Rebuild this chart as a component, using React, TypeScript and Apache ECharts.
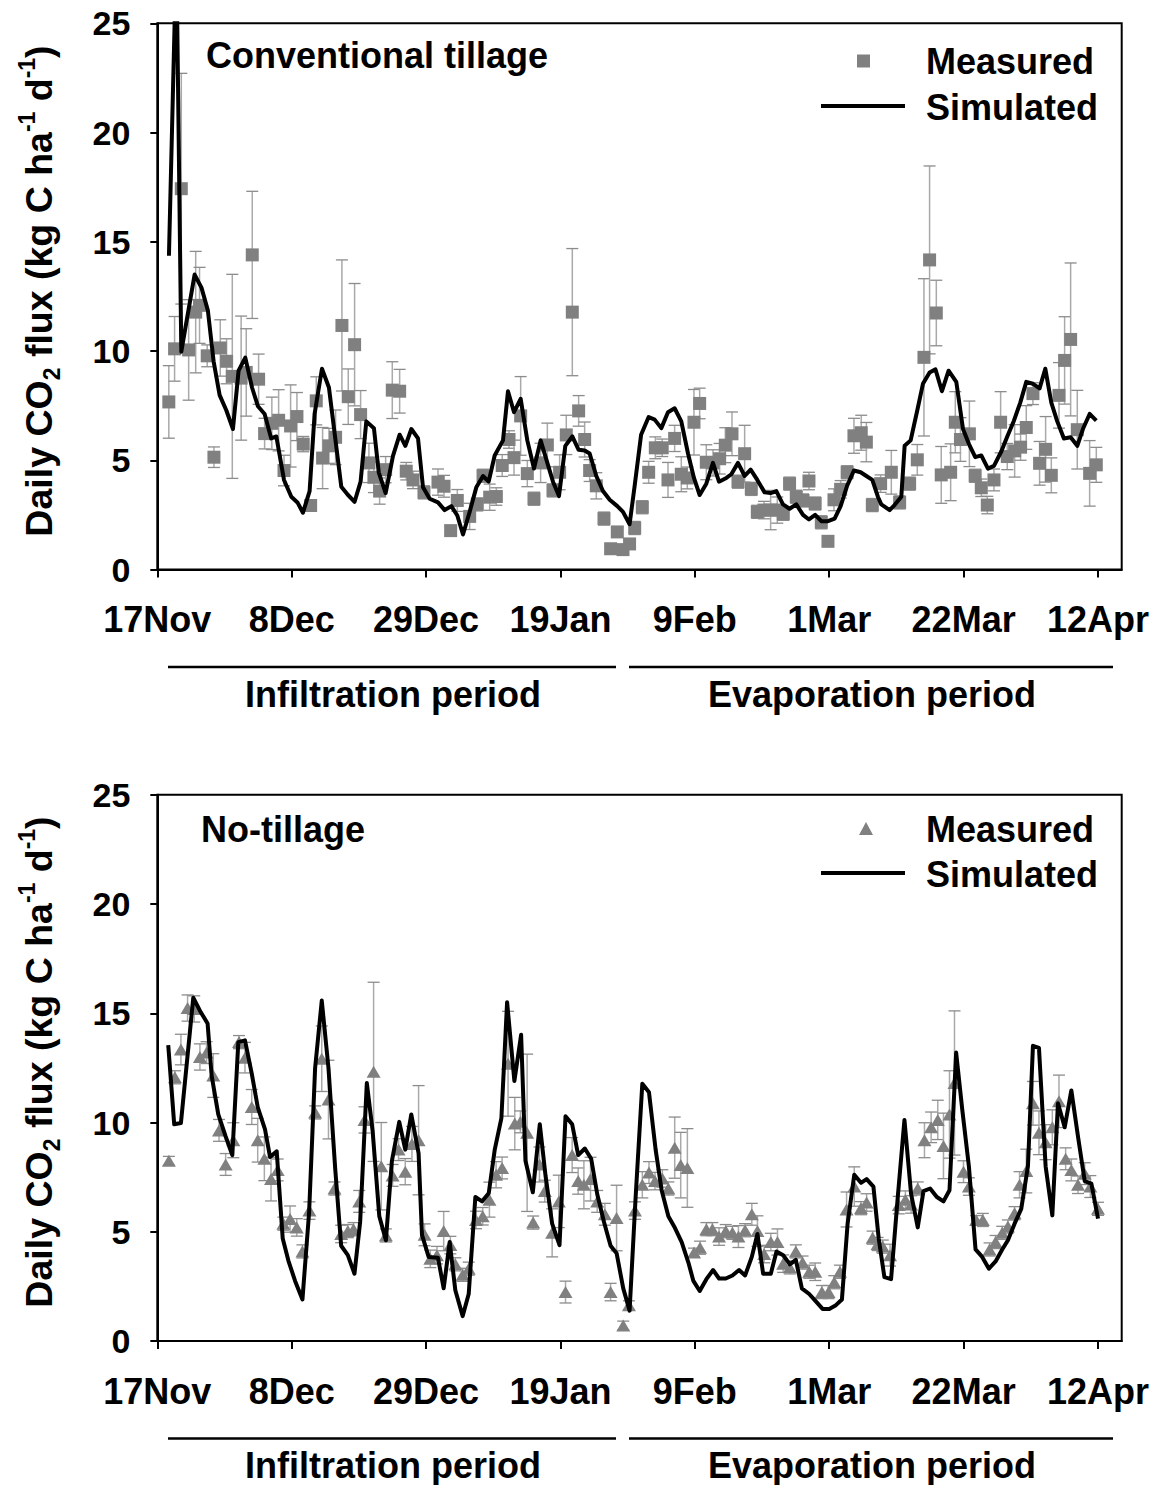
import React, { useEffect, useRef } from "react";
import * as echarts from "echarts";

// ---------- axis ticks ----------
const tickDays = [0, 21, 42, 63, 84, 105, 126, 147];
const tickLabels = ["17Nov", "8Dec", "29Dec", "19Jan", "9Feb", "1Mar", "22Mar", "12Apr"];
const yTicks = [0, 5, 10, 15, 20, 25];

// ---------- Conventional tillage: measured ----------
const ctDays = [
  1.8, 2.7, 3.75, 4.9, 6.0, 6.6, 7.8, 8.85, 9.84, 10.83, 11.72, 13.1, 13.9, 14.84, 15.83, 16.77, 17.9, 18.96, 19.8, 20.83,
  21.82, 22.8, 23.96, 24.84, 25.83, 26.82, 27.86, 28.85, 29.84, 30.83, 31.77, 33.07, 33.85, 34.74, 35.68, 36.72, 37.87, 38.9, 39.96, 41.67,
  43.86, 44.8, 45.84, 46.88, 48.81, 50.0, 50.9, 51.94, 52.98, 53.9, 54.96, 55.74, 56.78, 57.82, 58.86, 59.9, 60.95, 61.83, 62.87, 63.91,
  64.85, 65.84, 66.78, 67.56, 68.6, 69.8, 70.84, 71.88, 72.77, 73.8, 74.6, 75.79, 76.78, 77.82, 78.9, 79.8, 80.84, 81.88, 82.82, 83.86,
  84.75, 85.79, 86.83, 87.87, 88.76, 89.8, 90.74, 91.78, 92.82, 93.76, 94.8, 95.84, 96.88, 97.82, 98.8, 99.85, 100.9, 101.83, 102.8, 103.76,
  104.8, 105.74, 106.78, 107.8, 108.86, 110.0, 110.8, 111.73, 113.03, 114.7, 116.0, 117.56, 118.76, 119.8, 120.68, 121.73, 122.5, 123.97, 124.7, 125.5,
  126.9, 127.8, 128.76, 129.7, 130.74, 131.78, 132.82, 133.97, 134.9, 135.79, 136.83, 137.87, 138.81, 139.7, 140.9, 141.78, 142.72, 143.76, 145.69, 146.73,
];
const ctMeas = [
  7.67, 10.1, 17.43, 10.05, 11.78, 12.09, 9.78, 5.14, 10.14, 9.53, 8.84, 8.76, 9.02, 14.4, 8.71, 6.22, 6.69, 6.83, 4.53, 6.57,
  7.0, 5.74, 2.93, 7.72, 5.1, 5.66, 6.05, 11.17, 7.91, 10.29, 7.09, 4.88, 4.22, 3.59, 4.57, 8.21, 8.16, 4.5, 4.1, 3.53,
  4.0, 3.81, 1.78, 3.16, 2.43, 2.98, 4.29, 3.31, 3.34, 4.76, 5.95, 5.12, 7.03, 4.39, 3.24, 4.88, 5.7, 3.62, 4.45, 6.16,
  11.78, 7.26, 5.95, 4.53, 3.83, 2.33, 0.95, 1.72, 0.91, 1.17, 1.9, 2.85, 4.45, 5.57, 5.57, 4.1, 6.0, 4.36, 4.19, 6.74,
  7.6, 4.91, 4.88, 5.07, 5.69, 6.21, 4.02, 5.3, 3.69, 2.64, 2.72, 2.72, 2.72, 2.55, 3.93, 3.33, 3.16, 4.05, 3.02, 2.16,
  1.29, 3.19, 3.67, 4.45, 6.12, 6.26, 5.83, 2.95, 3.93, 4.45, 3.07, 3.93, 5.02, 9.71, 14.17, 11.74, 4.33, 4.45, 6.74, 5.95,
  6.21, 4.29, 3.74, 2.95, 4.1, 6.74, 5.17, 5.43, 5.6, 6.5, 8.05, 4.86, 5.5, 4.31, 7.97, 9.57, 10.53, 6.4, 4.4, 4.79,
];
const ctErr = [
  1.66, 1.48, 5.28, 2.3, 2.78, 1.74, 0.5, 0.47, 1.29, 1.03, 4.67, 2.84, 2.0, 2.91, 1.15, 0.7, 1.2, 1.4, 0.7, 1.88,
  1.1, 0.35, 0.2, 1.1, 1.4, 0.8, 1.25, 3.0, 1.27, 2.8, 1.1, 0.9, 0.7, 0.6, 0.6, 1.3, 1.0, 0.4, 0.4, 0.3,
  0.6, 0.5, 0.2, 0.5, 0.6, 0.3, 0.3, 0.6, 0.4, 0.5, 0.4, 0.8, 1.8, 0.6, 0.3, 0.9, 1.0, 0.3, 0.8, 0.9,
  2.91, 0.7, 0.8, 0.5, 0.6, 0.3, 0.1, 0.2, 0.1, 0.2, 0.3, 0.3, 0.5, 0.5, 0.4, 0.8, 0.6, 0.8, 0.5, 1.5,
  0.7, 0.8, 0.6, 0.7, 0.8, 1.0, 0.3, 1.3, 0.3, 0.3, 0.4, 0.9, 0.6, 0.3, 0.3, 0.3, 0.3, 0.4, 0.3, 0.3,
  0.2, 0.5, 0.4, 0.3, 0.8, 0.8, 0.9, 0.3, 0.4, 1.0, 0.3, 0.3, 0.7, 3.6, 4.3, 1.5, 1.3, 1.3, 1.4, 1.0,
  1.5, 0.3, 0.4, 0.4, 0.5, 1.4, 0.6, 1.2, 0.6, 1.0, 0.5, 1.0, 1.5, 0.8, 1.5, 2.0, 3.5, 1.8, 1.5, 0.8,
];

// ---------- Conventional tillage: simulated ----------
const ctSimDays = [
  1.82, 2.98, 3.75, 5.83, 6.9, 7.9, 8.8, 9.74, 10.78, 11.82, 12.7, 13.75, 14.8, 15.73, 16.77, 17.8, 18.6, 19.8, 20.94, 21.9,
  22.76, 23.8, 24.58, 25.73, 26.82, 27.7, 28.75, 29.8, 30.83, 31.77, 32.66, 33.85, 34.6, 35.68, 36.83, 37.87, 38.76, 39.7, 40.74, 41.52,
  42.56, 43.86, 44.9, 45.95, 46.88, 47.77, 48.81, 49.85, 50.9, 51.78, 52.72, 54.02, 54.8, 55.74, 56.78, 57.82, 58.86, 59.9, 60.95, 61.83,
  62.77, 63.76, 64.85, 65.84, 66.78, 67.56, 68.6, 69.64, 70.69, 71.88, 72.77, 73.8, 74.6, 75.6, 76.78, 77.72, 78.76, 79.8, 80.84, 81.88,
  82.93, 83.86, 84.75, 85.79, 86.83, 87.77, 88.92, 89.7, 90.74, 91.78, 92.72, 93.76, 94.9, 95.84, 96.73, 97.77, 98.8, 99.85, 100.9, 101.83,
  102.8, 103.76, 104.8, 105.84, 106.78, 107.8, 108.86, 109.9, 110.8, 111.73, 112.6, 113.13, 114.44, 115.2, 116.26, 116.78, 117.72, 118.76, 119.64, 120.68,
  121.6, 122.61, 123.65, 124.85, 125.9, 126.83, 127.82, 128.76, 129.8, 130.74, 131.88, 132.82, 133.86, 134.85, 135.79, 136.83, 137.87, 138.76, 139.7, 140.63,
  141.67, 142.72, 143.76, 144.64, 145.69, 146.73,
];
const ctSimVals = [
  14.36, 28.3, 9.97, 13.5, 12.9, 11.86, 9.53, 7.98, 7.29, 6.43, 9.1, 9.7, 8.33, 7.47, 7.12, 6.0, 6.09, 4.1, 3.33, 3.07,
  2.6, 3.59, 7.12, 9.19, 8.33, 6.26, 3.79, 3.41, 3.1, 4.02, 6.78, 6.47, 4.45, 3.5, 5.2, 6.17, 5.66, 6.43, 6.0, 3.76,
  3.24, 3.07, 2.72, 2.9, 2.47, 1.6, 2.64, 3.76, 4.28, 4.02, 5.22, 5.91, 8.16, 7.2, 7.81, 5.91, 4.62, 5.91, 4.88, 4.02,
  3.36, 5.66, 6.09, 5.48, 5.45, 5.31, 4.28, 3.59, 3.19, 2.9, 2.64, 2.07, 3.84, 6.17, 6.98, 6.86, 6.47, 7.2, 7.38, 6.78,
  5.31, 4.19, 3.41, 3.93, 4.88, 4.02, 4.19, 4.36, 4.88, 4.28, 4.57, 4.1, 3.53, 3.5, 3.59, 2.98, 2.78, 2.98, 2.5, 2.29,
  2.5, 2.21, 2.21, 2.33, 2.9, 3.84, 4.53, 4.45, 4.28, 4.1, 3.33, 2.98, 2.72, 2.95, 3.33, 5.66, 5.91, 7.29, 8.5, 9.02,
  9.16, 8.16, 9.1, 8.59, 6.43, 5.74, 5.14, 5.22, 4.62, 4.74, 5.4, 6.09, 6.81, 7.64, 8.59, 8.5, 8.29, 9.19, 7.64, 6.78,
  6.0, 6.05, 5.66, 6.43, 7.12, 6.81,
];

// ---------- No-tillage: measured ----------
const ntDays = [
  1.81, 2.75, 3.69, 4.73, 5.77, 6.66, 7.7, 8.75, 9.64, 10.68, 11.88, 12.77, 13.7, 14.76, 15.69, 16.73, 17.77, 18.81, 19.7, 20.75,
  21.79, 22.68, 23.77, 24.66, 25.7, 26.75, 27.69, 28.73, 29.77, 30.66, 31.55, 32.38, 33.8, 35.0, 35.72, 36.77, 37.7, 38.75, 39.79, 40.83,
  41.77, 42.66, 43.7, 44.75, 45.79, 46.57, 47.72, 48.66, 49.8, 50.85, 51.9, 52.94, 53.88, 54.81, 55.86, 56.74, 57.79, 58.73, 59.72, 60.55,
  61.7, 62.74, 63.79, 64.83, 65.77, 66.66, 67.7, 68.74, 69.94, 70.83, 71.77, 72.81, 73.7, 74.64, 75.79, 76.83, 77.77, 78.92, 79.86, 80.85,
  81.79, 82.83, 83.87, 84.81, 85.8, 86.74, 87.78, 88.83, 89.87, 90.81, 91.85, 92.9, 93.78, 94.83, 95.87, 96.91, 97.8, 98.84, 99.78, 100.83,
  101.87, 102.81, 103.85, 104.89, 105.78, 106.67, 107.71, 108.91, 109.96, 110.84, 111.78, 112.56, 113.36, 114.5, 115.86, 116.9, 117.79, 118.83, 119.88, 120.92,
  121.96, 122.85, 123.79, 124.57, 125.98, 126.82, 127.96, 129.0, 130.05, 130.99, 132.03, 132.92, 133.96, 134.74, 135.79, 136.83, 137.77, 138.81, 139.86, 140.9,
  141.94, 142.83, 143.87, 144.92, 145.8, 147.0,
];
const ntMeas = [
  8.25, 12.07, 13.34, 15.24, 15.2, 13.0, 13.2, 12.15, 9.64, 8.08, 9.19, 13.68, 12.97, 10.71, 9.19, 8.34, 7.41, 7.83, 5.37, 5.58,
  5.2, 4.1, 5.97, 10.46, 12.92, 11.05, 6.98, 4.9, 5.03, 5.12, 6.39, 10.12, 12.32, 8.0, 4.83, 7.58, 8.76, 7.75, 9.02, 9.19,
  4.86, 3.76, 3.93, 5.03, 4.39, 3.51, 3.03, 3.31, 5.54, 5.71, 6.47, 7.61, 7.92, 12.69, 9.95, 10.03, 9.53, 5.42, 8.08, 6.86,
  4.95, 6.39, 2.24, 8.51, 7.32, 7.15, 7.41, 6.39, 5.8, 2.24, 5.63, 0.71, 1.64, 5.97, 7.15, 7.71, 7.32, 7.44, 6.98, 8.85,
  8.05, 7.92, 4.05, 4.27, 5.12, 5.12, 4.78, 5.03, 4.95, 4.78, 5.07, 5.8, 5.03, 3.98, 4.53, 4.53, 3.54, 3.37, 4.1, 3.59,
  3.17, 3.17, 2.24, 2.24, 2.69, 3.17, 6.02, 7.07, 6.08, 6.34, 4.73, 4.44, 4.32, 3.93, 6.22, 6.47, 6.25, 6.98, 9.19, 9.78,
  10.12, 8.93, 10.37, 11.81, 7.75, 7.07, 5.54, 5.54, 4.19, 4.53, 4.95, 5.24, 5.85, 7.15, 7.78, 10.88, 9.53, 9.1, 9.78, 10.97,
  8.34, 7.83, 7.15, 7.66, 7.07, 6.05,
];
const ntErr = [
  0.2, 0.3, 0.7, 0.6, 0.6, 0.6, 0.5, 1.0, 0.5, 0.5, 0.8, 0.3, 0.7, 0.8, 1.0, 1.0, 1.0, 0.5, 0.3, 0.6,
  0.4, 0.3, 0.4, 0.3, 1.5, 1.8, 0.3, 0.4, 0.3, 0.3, 0.5, 0.6, 4.1, 2.0, 0.3, 0.5, 0.5, 0.6, 0.8, 2.5,
  0.5, 0.4, 0.4, 0.9, 0.4, 0.3, 0.3, 0.3, 0.4, 0.4, 0.8, 0.6, 0.5, 2.4, 1.2, 0.5, 3.6, 0.3, 0.8, 0.5,
  1.1, 1.2, 0.5, 0.8, 0.6, 1.1, 1.0, 0.5, 0.5, 0.4, 1.5, 0.2, 0.2, 0.4, 0.6, 0.5, 0.4, 0.4, 0.3, 1.4,
  1.5, 1.8, 0.2, 0.3, 0.3, 0.3, 0.4, 0.3, 0.3, 0.5, 0.3, 0.5, 0.7, 0.4, 0.4, 0.6, 0.4, 0.3, 0.3, 0.3,
  0.3, 0.4, 0.3, 0.3, 0.3, 0.3, 0.8, 0.9, 0.3, 0.4, 0.3, 0.3, 0.3, 0.5, 0.4, 0.4, 0.4, 0.3, 0.8, 0.7,
  0.9, 1.5, 2.0, 3.3, 0.5, 0.4, 0.2, 0.3, 0.3, 0.3, 0.3, 0.3, 0.3, 0.6, 1.0, 1.0, 1.0, 0.8, 0.8, 1.2,
  0.5, 0.5, 0.4, 0.5, 0.5, 0.3,
];

// ---------- No-tillage: simulated ----------
const ntSimDays = [
  1.71, 2.64, 3.69, 5.62, 6.66, 7.86, 8.49, 9.53, 10.68, 11.72, 12.66, 13.7, 14.76, 15.69, 16.83, 17.62, 18.66, 19.6, 20.48, 21.53,
  22.68, 23.72, 24.66, 25.7, 26.75, 27.79, 28.73, 29.77, 30.81, 31.7, 32.74, 33.65, 34.69, 35.72, 36.66, 37.81, 38.75, 39.69, 40.83, 41.36,
  42.4, 43.86, 44.75, 45.69, 46.57, 47.72, 48.66, 49.7, 50.75, 51.79, 52.73, 53.77, 54.66, 55.8, 56.85, 57.53, 58.68, 59.77, 60.66, 61.7,
  62.85, 63.79, 64.83, 65.77, 66.81, 67.8, 68.74, 69.79, 70.83, 71.77, 72.81, 73.8, 74.74, 75.79, 76.83, 77.87, 78.81, 79.86, 80.9, 81.94,
  82.99, 83.77, 84.76, 85.8, 86.85, 87.78, 88.83, 89.87, 90.91, 91.85, 92.9, 93.78, 94.67, 95.87, 96.76, 97.8, 98.84, 99.78, 100.72, 101.87,
  102.91, 103.96, 105.0, 106.04, 106.98, 107.87, 108.91, 109.96, 110.84, 111.9, 112.73, 113.62, 114.66, 115.7, 116.75, 117.79, 118.83, 119.72, 120.76, 121.81,
  122.85, 123.79, 124.83, 125.77, 126.82, 127.86, 128.9, 129.95, 130.99, 132.03, 132.92, 133.96, 135.0, 136.05, 136.83, 137.77, 138.81, 139.86, 140.74, 141.79,
  142.83, 143.87, 144.92, 145.96, 147.0,
];
const ntSimVals = [
  13.54, 9.92, 9.98, 15.71, 15.12, 14.53, 12.15, 10.37, 9.36, 8.51, 13.68, 13.76, 12.24, 10.71, 9.69, 8.42, 8.68, 4.69, 3.68, 2.75,
  1.9, 5.88, 12.49, 15.58, 12.49, 7.92, 4.36, 3.93, 3.08, 5.46, 11.81, 9.61, 5.71, 4.61, 8.25, 10.03, 8.76, 10.37, 8.59, 4.86,
  3.85, 3.81, 2.41, 4.53, 2.32, 1.14, 2.15, 6.59, 6.39, 6.76, 8.76, 10.2, 15.51, 11.9, 14.02, 8.25, 6.81, 9.92, 7.58, 5.37,
  4.39, 10.29, 9.92, 8.51, 8.81, 8.34, 6.73, 5.46, 4.36, 4.02, 2.41, 1.39, 6.56, 11.78, 11.39, 8.76, 6.9, 5.71, 5.17, 4.53,
  3.59, 2.75, 2.29, 2.83, 3.25, 2.86, 2.86, 3.0, 3.25, 3.0, 3.85, 4.9, 3.08, 3.08, 4.1, 3.93, 3.51, 3.71, 2.41, 2.15,
  1.81, 1.47, 1.47, 1.64, 1.9, 5.37, 7.61, 7.24, 7.41, 7.07, 4.69, 2.92, 2.83, 6.56, 10.12, 6.73, 5.2, 6.86, 6.98, 6.59,
  6.39, 6.9, 13.2, 10.63, 8.0, 4.19, 3.85, 3.31, 3.64, 4.19, 4.61, 5.37, 6.05, 8.0, 13.51, 13.42, 8.0, 5.75, 10.88, 9.78,
  11.47, 9.36, 7.32, 7.2, 5.6,
];

// ---------- texts ----------
const panelTitles = ["Conventional tillage", "No-tillage"];
const legendNames = ["Measured", "Simulated"];
const periodNames = ["Infiltration period", "Evaporation period"];

const FONT = '"Liberation Sans", Arial, Helvetica, sans-serif';
const GRAY = "#808080";

const pairs = (a: number[], b: number[]) => a.map((d, i) => [d, b[i]]);
const triples = (a: number[], b: number[], c: number[]) => a.map((d, i) => [d, b[i], c[i]]);

const errorBarRender = (params: any, api: any) => {
  const x = api.value(0);
  const y = api.value(1);
  const e = api.value(2);
  const p1 = api.coord([x, y + e]);
  const p2 = api.coord([x, y - e]);
  const w = 6;
  return {
    type: "group",
    children: [
      { type: "line", shape: { x1: p1[0], y1: p1[1], x2: p2[0], y2: p2[1] }, style: { stroke: "#a9a9a9", lineWidth: 1.5 } },
      { type: "line", shape: { x1: p1[0] - w, y1: p1[1], x2: p1[0] + w, y2: p1[1] }, style: { stroke: "#8c8c8c", lineWidth: 1.3 } },
      { type: "line", shape: { x1: p2[0] - w, y1: p2[1], x2: p2[0] + w, y2: p2[1] }, style: { stroke: "#8c8c8c", lineWidth: 1.3 } },
    ],
  };
};

const GRID_LEFT = 157.3;
const GRID_W = 964.4;
const GRID_H = 546.2;
const TOPS = [23.3, 794.8];

const makeX = (i: number) => ({
  type: "value",
  gridIndex: i,
  min: 0,
  max: 150.7,
  axisLine: { show: true, lineStyle: { color: "#000", width: 2 } },
  axisTick: { show: true, inside: false, length: 8, lineStyle: { color: "#000", width: 2 }, customValues: tickDays },
  axisLabel: {
    show: true,
    customValues: tickDays,
    margin: 32,
    fontSize: 36,
    fontWeight: "bold",
    fontFamily: FONT,
    color: "#000",
    formatter: (v: number) => {
      const k = tickDays.indexOf(Math.round(v));
      return k >= 0 ? tickLabels[k] : "";
    },
  },
  splitLine: { show: false },
});

const makeY = (i: number) => ({
  type: "value",
  gridIndex: i,
  min: yTicks[0],
  max: yTicks[yTicks.length - 1],
  interval: 5,
  axisLine: { show: true, lineStyle: { color: "#000", width: 2 } },
  axisTick: { show: true, inside: false, length: 7, lineStyle: { color: "#000", width: 2 } },
  axisLabel: { margin: 27, fontSize: 34, fontWeight: "bold", fontFamily: FONT, color: "#000" },
  splitLine: { show: false },
});

const yTitle = (y: number) => ({
  type: "text",
  x: 39,
  y,
  rotation: Math.PI / 2,
  style: {
    text: "Daily CO{sub|2} flux (kg C ha{sup|-1} d{sup|-1})",
    fontSize: 37.5,
    fontWeight: "bold",
    fontFamily: FONT,
    fill: "#000",
    align: "center",
    verticalAlign: "middle",
    lineHeight: 48,
    rich: {
      sub: { fontSize: 23, fontWeight: "bold", fontFamily: FONT, fill: "#000", lineHeight: 23, verticalAlign: "bottom" },
      sup: { fontSize: 23, fontWeight: "bold", fontFamily: FONT, fill: "#000", lineHeight: 23, verticalAlign: "top" },
    },
  },
});

const txt = (text: string, x: number, y: number, align: string, size = 36) => ({
  type: "text",
  x,
  y,
  style: { text, fontSize: size, fontWeight: "bold", fontFamily: FONT, fill: "#000", align, verticalAlign: "middle" },
});

const hline = (x1: number, x2: number, y: number, w: number) => ({
  type: "line",
  shape: { x1, y1: y, x2, y2: y },
  style: { stroke: "#000", lineWidth: w },
});

const graphics: any[] = [];
[0, 1].forEach((p) => {
  const off = TOPS[p] - TOPS[0];
  graphics.push(yTitle(p === 0 ? 291 : 1062));
  graphics.push(txt(panelTitles[p], p === 0 ? 206 : 201, p === 0 ? 55 : 829, "left"));
  // legend
  const ly1 = p === 0 ? 61 : 829;
  const ly2 = p === 0 ? 107 : 874;
  graphics.push(txt(legendNames[0], 926, ly1, "left"));
  graphics.push(txt(legendNames[1], 926, ly2, "left"));
  graphics.push(hline(821, 905, ly2 - 1, 4));
  if (p === 0) {
    graphics.push({ type: "rect", shape: { x: 857, y: ly1 - 6.5, width: 13, height: 13 }, style: { fill: GRAY } });
  } else {
    graphics.push({
      type: "polygon",
      shape: { points: [[866, ly1 - 7], [873, ly1 + 6], [859, ly1 + 6]] },
      style: { fill: GRAY },
    });
  }
  // period labels
  graphics.push(hline(168, 616, 667 + off, 2.5));
  graphics.push(hline(629, 1113, 667 + off, 2.5));
  graphics.push(txt(periodNames[0], 393, 694 + off, "center"));
  graphics.push(txt(periodNames[1], 872, 694 + off, "center"));
});

const option: any = {
  animation: false,
  backgroundColor: "#fff",
  grid: TOPS.map((t) => ({
    left: GRID_LEFT,
    top: t,
    width: GRID_W,
    height: GRID_H,
    show: true,
    borderColor: "#000",
    borderWidth: 2,
    backgroundColor: "transparent",
    containLabel: false,
  })),
  xAxis: [makeX(0), makeX(1)],
  yAxis: [makeY(0), makeY(1)],
  series: [
    {
      type: "custom",
      xAxisIndex: 0,
      yAxisIndex: 0,
      renderItem: errorBarRender,
      encode: { x: 0, y: 1 },
      data: triples(ctDays, ctMeas, ctErr),
      z: 1,
    },
    {
      type: "scatter",
      xAxisIndex: 0,
      yAxisIndex: 0,
      symbol: "rect",
      symbolSize: 13,
      itemStyle: { color: GRAY, opacity: 1 },
      data: pairs(ctDays, ctMeas),
      z: 2,
    },
    {
      type: "line",
      xAxisIndex: 0,
      yAxisIndex: 0,
      showSymbol: false,
      symbol: "none",
      lineStyle: { color: "#000", width: 4, join: "round" },
      data: pairs(ctSimDays, ctSimVals),
      clip: true,
      z: 3,
    },
    {
      type: "custom",
      xAxisIndex: 1,
      yAxisIndex: 1,
      renderItem: errorBarRender,
      encode: { x: 0, y: 1 },
      data: triples(ntDays, ntMeas, ntErr),
      z: 1,
    },
    {
      type: "scatter",
      xAxisIndex: 1,
      yAxisIndex: 1,
      symbol: "triangle",
      symbolSize: [14, 12],
      itemStyle: { color: GRAY, opacity: 1 },
      data: pairs(ntDays, ntMeas),
      z: 2,
    },
    {
      type: "line",
      xAxisIndex: 1,
      yAxisIndex: 1,
      showSymbol: false,
      symbol: "none",
      lineStyle: { color: "#000", width: 4, join: "round" },
      data: pairs(ntSimDays, ntSimVals),
      clip: true,
      z: 3,
    },
  ],
  graphic: graphics,
};

export default function App() {
  const ref = useRef<HTMLDivElement>(null);
  useEffect(() => {
    if (!ref.current) return;
    const chart = echarts.init(ref.current, null, { renderer: "svg" });
    chart.setOption(option);
    return () => chart.dispose();
  }, []);
  return (
    <div
      ref={ref}
      style={{ position: "absolute", left: 0, top: 0, width: 1157, height: 1485, background: "#fff" }}
    />
  );
}
